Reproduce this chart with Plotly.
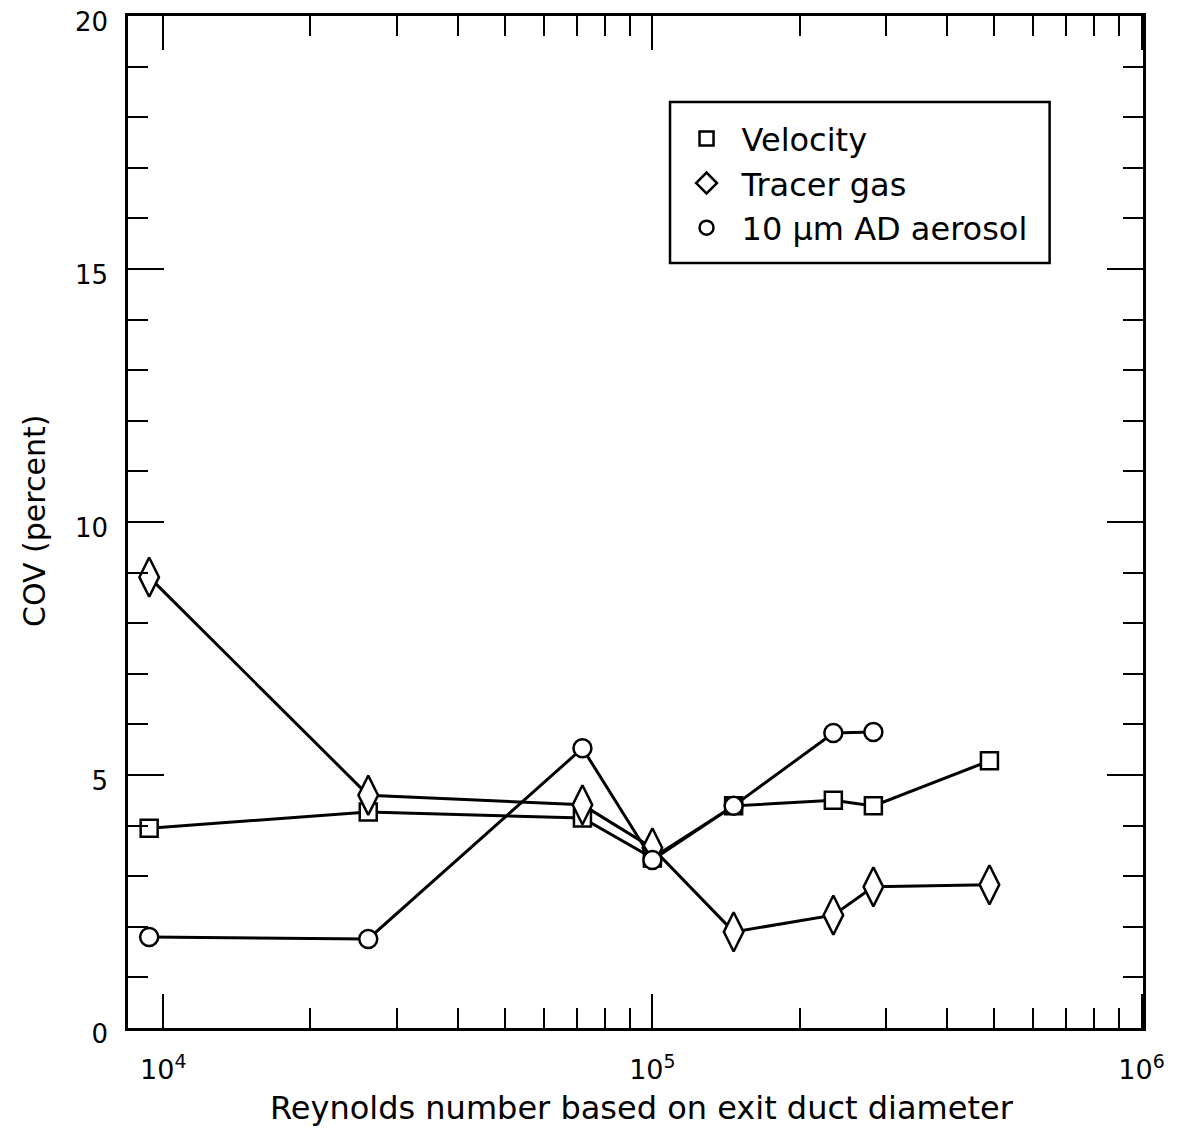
import plotly.graph_objects as go

# Data
re_velocity = [9360, 26250, 71950, 100000, 146600, 234400, 283000, 488700]
cov_velocity = [3.95, 4.27, 4.15, 3.36, 4.39, 4.5, 4.39, 5.28]

re_tracer = [9360, 26250, 71950, 100000, 146600, 234400, 283000, 488700]
cov_tracer = [8.91, 4.6, 4.41, 3.56, 1.9, 2.23, 2.79, 2.83]

re_aerosol = [9360, 26250, 71950, 100000, 146600, 234400, 283000]
cov_aerosol = [1.8, 1.76, 5.53, 3.32, 4.39, 5.83, 5.85]

series_names = ["Velocity", "Tracer gas", "10 \u03bcm AD aerosol"]
x_tickvals = [1e4, 1e5, 1e6]
x_ticktext = ["10<sup>4</sup>", "10<sup>5</sup>", "10<sup>6</sup>"]
x_minor = [2e4, 3e4, 4e4, 5e4, 6e4, 7e4, 8e4, 9e4,
           2e5, 3e5, 4e5, 5e5, 6e5, 7e5, 8e5, 9e5]
y_tickvals = [0, 5, 10, 15, 20]

FONT = "DejaVu Sans, Liberation Sans, Arial, sans-serif"
BLACK = "black"

fig = go.Figure()

line_style = dict(color=BLACK, width=3)

fig.add_trace(go.Scatter(
    x=re_velocity, y=cov_velocity, mode="lines+markers", showlegend=False,
    line=line_style,
    marker=dict(symbol="square", size=17, color="white", line=dict(color=BLACK, width=2.5)),
))
fig.add_trace(go.Scatter(
    x=re_tracer, y=cov_tracer, mode="lines+markers", showlegend=False,
    line=line_style,
    marker=dict(symbol="diamond-tall", size=28, color="white", line=dict(color=BLACK, width=2.5)),
))
fig.add_trace(go.Scatter(
    x=re_aerosol, y=cov_aerosol, mode="lines+markers", showlegend=False,
    line=line_style,
    marker=dict(symbol="circle", size=18, color="white", line=dict(color=BLACK, width=2.5)),
))

# legend-only entries (markers only, as in the reference)
legend_markers = [
    dict(symbol="square", size=14, color="white", line=dict(color=BLACK, width=2.5)),
    dict(symbol="diamond", size=16, color="white", line=dict(color=BLACK, width=2.5)),
    dict(symbol="circle", size=14, color="white", line=dict(color=BLACK, width=2.5)),
]
for name, mk in zip(series_names, legend_markers):
    fig.add_trace(go.Scatter(x=[None], y=[None], mode="markers", name=name,
                             marker=mk, showlegend=True))

fig.update_layout(
    width=1165, height=1124,
    margin=dict(l=120, r=30, t=8, b=104),
    paper_bgcolor="white", plot_bgcolor="white",
    font=dict(family=FONT, color=BLACK, size=26),
    legend=dict(
        x=0.5355, y=0.906, xanchor="left", yanchor="top",
        bgcolor="rgba(0,0,0,0)", borderwidth=0,
        font=dict(family=FONT, size=32, color=BLACK),
        itemsizing="trace", itemwidth=60, tracegroupgap=0,
    ),
    xaxis=dict(
        type="log", range=[3.928, 6.003], automargin=False,
        tickmode="array", tickvals=x_tickvals, ticktext=x_ticktext,
        ticks="inside", ticklen=34, tickwidth=2, tickcolor=BLACK,
        showline=True, linewidth=2.5, linecolor=BLACK, mirror="ticks",
        showgrid=False, zeroline=False, ticklabeloverflow="allow",
        tickfont=dict(size=27), ticklabelstandoff=16,
        minor=dict(tickmode="array", tickvals=x_minor, ticks="inside",
                   ticklen=20, tickwidth=2, tickcolor=BLACK, showgrid=False),
    ),
    yaxis=dict(
        range=[0, 20], automargin=False,
        tickmode="array", tickvals=y_tickvals,
        ticks="inside", ticklen=36, tickwidth=2, tickcolor=BLACK,
        showline=True, linewidth=2.5, linecolor=BLACK, mirror="ticks",
        showgrid=False, zeroline=False, ticklabeloverflow="allow",
        tickfont=dict(size=26), ticklabelstandoff=12, ticklabelshift=6,
        minor=dict(dtick=1, ticks="inside", ticklen=20, tickwidth=2,
                   tickcolor=BLACK, showgrid=False),
    ),
    shapes=[
        dict(type="rect", xref="paper", yref="paper",
             x0=0.534, x1=0.908, y0=0.756, y1=0.915,
             line=dict(color=BLACK, width=2.5), fillcolor="rgba(0,0,0,0)",
             layer="above"),
    ],
    annotations=[
        dict(text="Reynolds number based on exit duct diameter",
             xref="paper", yref="paper", x=0.506, y=-0.079,
             xanchor="center", yanchor="middle", showarrow=False,
             font=dict(family=FONT, size=32, color=BLACK)),
        dict(text="COV (percent)", textangle=-90,
             xref="paper", yref="paper", x=-0.0916, y=0.501,
             xanchor="center", yanchor="middle", showarrow=False,
             font=dict(family=FONT, size=30, color=BLACK)),
    ],
)

fig.write_html("out.html")
